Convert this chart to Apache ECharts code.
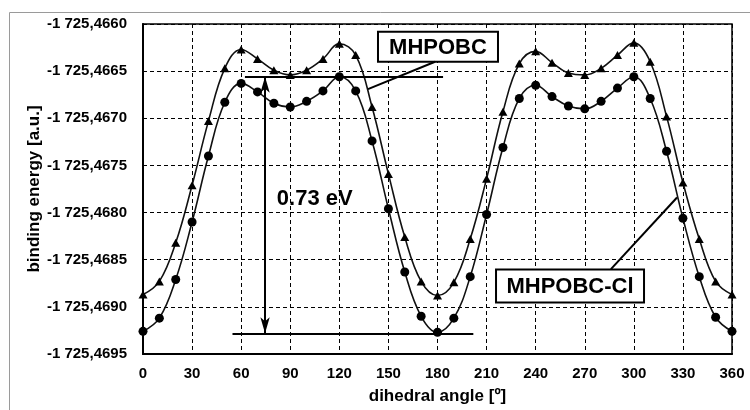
<!DOCTYPE html>
<html>
<head>
<meta charset="utf-8">
<script src="https://cdn.jsdelivr.net/npm/echarts@6/dist/echarts.min.js"></script>
<style>
  html, body { margin: 0; padding: 0; background: #fff; }
  #main { width: 750px; height: 410px; }
</style>
</head>
<body>
<div id="main"></div>
<script>
// dihedral angle, degrees
var angles = [0, 10, 20, 30, 40, 50, 60, 70, 80, 90, 100, 110, 120, 130, 140, 150, 160, 170, 180,
  190, 200, 210, 220, 230, 240, 250, 260, 270, 280, 290, 300, 310, 320, 330, 340, 350, 360];

// upper curve (triangles)
var mhpobc = [-1725.46887, -1725.46873, -1725.46832, -1725.46771, -1725.46703, -1725.46647, -1725.46627,
  -1725.46637, -1725.46649, -1725.46654, -1725.46649, -1725.46637, -1725.46621, -1725.46633, -1725.46688,
  -1725.46759, -1725.46826, -1725.46873, -1725.46888, -1725.46874, -1725.46828, -1725.46764, -1725.46693,
  -1725.46642, -1725.46629, -1725.46641, -1725.46652, -1725.46654, -1725.46647, -1725.46633, -1725.46620,
  -1725.46640, -1725.46698, -1725.46768, -1725.46828, -1725.46873, -1725.46887];

// lower curve (circles)
var mhpobcCl = [-1725.46926, -1725.46912, -1725.46871, -1725.46810, -1725.46740, -1725.46683, -1725.46663,
  -1725.46672, -1725.46684, -1725.46688, -1725.46682, -1725.46671, -1725.46656, -1725.46671, -1725.46724,
  -1725.46796, -1725.46863, -1725.46910, -1725.46927, -1725.46912, -1725.46868, -1725.46802, -1725.46731,
  -1725.46679, -1725.46665, -1725.46677, -1725.46687, -1725.46690, -1725.46682, -1725.46668, -1725.46656,
  -1725.46679, -1725.46735, -1725.46806, -1725.46868, -1725.46911, -1725.46926];

// energy levels for the 0.73 eV arrow
var levelTop = -1725.46656;
var levelBottom = -1725.46928;

var chart = echarts.init(document.getElementById('main'));

var fontFam = '"Liberation Sans", Arial, sans-serif';

function pair(xs, ys) {
  var out = [];
  for (var i = 0; i < xs.length; i++) out.push([xs[i], ys[i]]);
  return out;
}

var lineStyleBlack = { color: '#000', width: 2, type: 'solid' };

chart.setOption({
  animation: false,
  backgroundColor: '#fff',
  grid: {
    left: 143, right: 18, top: 24, bottom: 55,
    show: true, borderColor: '#000', borderWidth: 1.5
  },
  xAxis: {
    type: 'value',
    min: 0, max: 360, interval: 30,
    name: 'dihedral angle [º]',
    nameLocation: 'middle',
    nameGap: 34,
    nameMoveOverlap: false,
    nameTextStyle: { fontFamily: fontFam, fontWeight: 'bold', fontSize: 17, color: '#000' },
    axisLine: { lineStyle: { color: '#000', width: 2 } },
    axisTick: { show: false },
    axisLabel: { fontFamily: fontFam, fontWeight: 'bold', fontSize: 15, color: '#000', margin: 12 },
    splitLine: { show: true, lineStyle: { color: '#000', width: 1, type: [4, 3] } }
  },
  yAxis: {
    type: 'value',
    min: -1725.4695, max: -1725.4660, interval: 0.0005,
    name: 'binding energy [a.u.]',
    nameLocation: 'middle',
    nameGap: 100,
    nameMoveOverlap: false,
    nameTextStyle: { fontFamily: fontFam, fontWeight: 'bold', fontSize: 17, color: '#000' },
    axisLine: { lineStyle: { color: '#000', width: 2 } },
    axisTick: { show: false },
    axisLabel: {
      fontFamily: fontFam, fontWeight: 'bold', fontSize: 15, color: '#000', margin: 16,
      formatter: function (v) {
        var s = Math.abs(v).toFixed(4);
        return '-' + s.charAt(0) + ' ' + s.slice(1).replace('.', ',');
      }
    },
    splitLine: { show: true, lineStyle: { color: '#000', width: 1, type: [4, 3] } }
  },
  series: [{
    name: 'MHPOBC',
    type: 'line',
    data: pair(angles, mhpobc),
    smooth: 0.4,
    symbol: 'triangle',
    symbolSize: [9, 8],
    itemStyle: { color: '#000' },
    lineStyle: { color: '#111', width: 1.6 },
    z: 3
  }, {
    name: 'MHPOBC-Cl',
    type: 'line',
    data: pair(angles, mhpobcCl),
    smooth: 0.4,
    symbol: 'circle',
    symbolSize: 9,
    itemStyle: { color: '#000' },
    lineStyle: { color: '#111', width: 1.6 },
    z: 3,
    markLine: {
      silent: true,
      symbol: ['none', 'none'],
      label: { show: false },
      lineStyle: lineStyleBlack,
      data: [
        [{ coord: [62.3, levelTop] }, { coord: [183.4, levelTop] }],
        [{ coord: [54.7, levelBottom] }, { coord: [201.9, levelBottom] }],
        [{ coord: [74.6, levelTop], symbol: 'arrow', symbolSize: [7, 16] },
         { coord: [74.6, levelBottom], symbol: 'arrow', symbolSize: [7, 16] }],
        [{ coord: [178.5, -1725.46640] }, { coord: [137.5, -1725.46669] }],
        [{ coord: [286, -1725.46860] }, { coord: [326.4, -1725.46784] }]
      ]
    }
  }]
});

function px(x, y) {
  return chart.convertToPixel({ gridIndex: 0 }, [x, y]);
}

function boxLabel(text, x, y, w, h) {
  var c = px(x, y);
  return {
    type: 'group',
    x: c[0], y: c[1],
    z: 10,
    children: [{
      type: 'rect',
      shape: { x: -w / 2, y: -h / 2, width: w, height: h },
      style: { fill: '#fff', stroke: '#000', lineWidth: 2 }
    }, {
      type: 'text',
      style: {
        text: text, x: 0, y: 1, align: 'center', verticalAlign: 'middle',
        font: 'bold 22px ' + fontFam, fill: '#000'
      }
    }]
  };
}

var evPos = px(105, -1725.46786);

chart.setOption({
  graphic: [
    {
      type: 'rect', left: 7, top: 10, silent: true,
      shape: { x: 0, y: 0, width: 800, height: 500 },
      style: { fill: 'none', stroke: '#9a9a9a', lineWidth: 1 }
    },
    boxLabel('MHPOBC', 180.3, -1725.46624, 120, 30),
    boxLabel('MHPOBC-Cl', 261, -1725.46878, 148, 33),
    {
      type: 'text', x: evPos[0], y: evPos[1], z: 10,
      style: {
        text: '0.73 eV', align: 'center', verticalAlign: 'middle',
        font: 'bold 22px ' + fontFam, fill: '#000'
      }
    }
  ]
});
</script>
</body>
</html>
